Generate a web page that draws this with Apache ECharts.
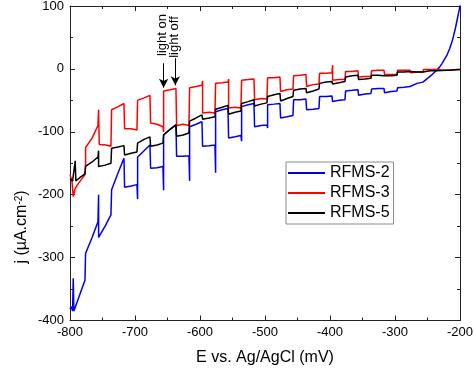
<!DOCTYPE html>
<html>
<head>
<meta charset="utf-8">
<script src="https://cdn.jsdelivr.net/npm/echarts@6/dist/echarts.min.js"></script>
<style>
html,body{margin:0;padding:0;background:#fff;}
#chart{width:474px;height:368px;}
</style>
</head>
<body>
<div id="chart"></div>
<script>
// ---- data (E in mV, j in µA.cm-2) ----
const seriesNames = ['RFMS-2', 'RFMS-3', 'RFMS-5'];
const xRange = [-800, -200];
const yRange = [-400, 100];

const rfms2 = [
  [-800,-382],[-798,-378],[-796,-385],[-795,-333],[-794,-385],[-786,-362],[-777,-336],[-776,-293],[-766,-268],[-757,-243],
  [-756,-200],[-756,-268],[-746,-250],[-737,-232],[-736,-192],[-726,-165],[-717,-142],[-716,-188],[-706,-186],[-697,-184],
  [-696,-207],[-696,-140],[-686,-130],[-677,-121],[-676,-158],[-666,-157],[-657,-155],[-656,-193],[-656,-105],[-646,-96],
  [-637,-89],[-636,-139],[-626,-139],[-617,-138],[-616,-178],[-616,-92],[-606,-88],[-597,-84],[-596,-123],[-586,-122],
  [-577,-121],[-576,-165],[-576,-68],[-566,-65],[-557,-63],[-556,-110],[-546,-108],[-537,-106],[-536,-115],[-536,-60],
  [-526,-57],[-517,-55],[-516,-92],[-506,-90],[-497,-89],[-496,-94],[-496,-57],[-486,-56],[-477,-55],[-476,-78],
  [-466,-76],[-457,-74],[-456,-49],[-446,-49],[-437,-48],[-436,-65],[-426,-64],[-417,-63],[-416,-44],[-406,-44],
  [-397,-43],[-396,-52],[-386,-50],[-377,-49],[-376,-35],[-366,-34],[-357,-33],[-356,-42],[-346,-40],[-337,-39],
  [-336,-32],[-326,-31],[-317,-31],[-316,-38],[-306,-36],[-297,-35],[-296,-30],[-286,-29],[-277,-28],[-276,-25],
  [-266,-23],[-257,-21],[-256,-18],[-250,-15],[-244,-10],[-240,-6],[-236,-2],[-232,2],[-228,8],[-224,15],
  [-220,22],[-216,32],[-213,41],[-210,52],[-207,65],[-205,75],[-203,85],[-201,95],[-200,101]
];

const rfms3 = [
  [-800,-168],[-797,-178],[-795,-203],[-792,-190],[-787,-182],[-777,-168],[-776,-150],[-776,-125],[-766,-110],[-757,-90],
  [-756,-65],[-755,-120],[-745,-121],[-737,-123],[-736,-65],[-726,-60],[-717,-55],[-716,-95],[-706,-95],[-697,-97],
  [-696,-50],[-686,-46],[-677,-42],[-676,-86],[-666,-88],[-657,-92],[-656,-100],[-656,-35],[-646,-33],[-637,-31],
  [-636,-90],[-626,-88],[-617,-90],[-616,-30],[-606,-28],[-597,-26],[-596,-19],[-596,-70],[-586,-69],[-577,-70],
  [-576,-23],[-566,-22],[-557,-21],[-556,-16],[-556,-62],[-546,-61],[-537,-62],[-536,-18],[-526,-17],[-517,-16],
  [-516,-49],[-506,-47],[-497,-48],[-496,-14],[-486,-14],[-477,-13],[-476,-36],[-466,-33],[-457,-32],[-456,-11],
  [-446,-10],[-437,-9],[-436,-28],[-426,-25],[-417,-24],[-416,-7],[-406,-7],[-397,-6],[-396,6],[-396,-18],
  [-386,-17],[-377,-17],[-376,-4],[-366,-4],[-357,-3],[-356,0],[-356,-13],[-346,-12],[-337,-12],[-336,-3],
  [-326,-2],[-317,-2],[-316,-9],[-306,-9],[-297,-9],[-296,-2],[-286,-2],[-277,-2],[-276,-6],[-266,-5],
  [-257,-5],[-256,-1],[-246,-1],[-237,-1],[-236,-3],[-226,-2],[-215,-2],[-205,-1],[-200,-1]
];

const rfms5 = [
  [-800,-175],[-796,-178],[-793,-176],[-792,-146],[-791,-178],[-785,-173],[-777,-167],[-776,-155],[-766,-148],[-757,-140],
  [-756,-130],[-756,-155],[-746,-153],[-737,-150],[-736,-126],[-726,-124],[-717,-122],[-716,-137],[-706,-134],[-697,-132],
  [-696,-118],[-686,-112],[-677,-108],[-676,-123],[-666,-121],[-657,-118],[-656,-105],[-646,-96],[-637,-89],[-636,-107],
  [-626,-105],[-617,-102],[-616,-83],[-606,-78],[-597,-73],[-596,-80],[-586,-78],[-577,-76],[-576,-64],[-566,-61],
  [-557,-58],[-556,-72],[-546,-69],[-537,-67],[-536,-55],[-526,-52],[-517,-49],[-516,-59],[-506,-56],[-497,-54],
  [-496,-44],[-486,-41],[-477,-39],[-476,-51],[-466,-47],[-457,-44],[-456,-34],[-446,-32],[-437,-31],[-436,-38],
  [-426,-35],[-417,-32],[-416,-23],[-406,-21],[-397,-20],[-396,-24],[-386,-22],[-377,-20],[-376,-13],[-366,-11],
  [-357,-10],[-356,-17],[-346,-16],[-337,-15],[-336,-10],[-326,-10],[-317,-11],[-316,-12],[-306,-11],[-297,-10],
  [-296,-5],[-286,-5],[-277,-4],[-276,-6],[-266,-5],[-257,-5],[-256,-3],[-246,-3],[-237,-3],[-236,-3],
  [-220,-2],[-200,-1]
];

// annotation arrows (data coordinates)
const lightOnArrow = [[-656, 9], [-656, -30]];
const lightOffArrow = [[-638, 17], [-638, -26]];
const annotationTexts = ['light on', 'light off'];

// ---- chart ----
const FONT = '"Liberation Sans", Arial, sans-serif';
const AX = '#222';
const chart = echarts.init(document.getElementById('chart'), null, {renderer: 'canvas'});

function xAx(pos, show) {
  return {
    type: 'value', position: pos, min: xRange[0], max: xRange[1], interval: 100,
    axisLine: {show: true, onZero: false, lineStyle: {color: AX, width: 1}},
    axisTick: {show: true, inside: true, length: 5, lineStyle: {color: AX}},
    minorTick: {show: true, splitNumber: 2, length: 3, lineStyle: {color: AX}},
    splitLine: {show: false},
    axisLabel: {show: show, margin: 5, color: '#000', fontSize: 13, fontFamily: FONT},
    name: show ? 'E vs. Ag/AgCl (mV)' : '',
    nameLocation: 'middle', nameGap: 29,
    nameTextStyle: {fontSize: 16, color: '#000', fontFamily: FONT}
  };
}
function yAx(pos, show) {
  return {
    type: 'value', position: pos, min: yRange[0], max: yRange[1], interval: 100,
    axisLine: {show: true, onZero: false, lineStyle: {color: AX, width: 1}},
    axisTick: {show: true, inside: true, length: 5, lineStyle: {color: AX}},
    minorTick: {show: true, splitNumber: 2, length: 3, lineStyle: {color: AX}},
    splitLine: {show: false},
    axisLabel: {show: show, margin: 6, color: '#000', fontSize: 13, fontFamily: FONT}
  };
}

const option = {
  backgroundColor: '#fff',
  animation: false,
  grid: {left: 70, right: 14, top: 6, bottom: 47.5, containLabel: false, outerBoundsMode: 'none'},
  xAxis: [xAx('bottom', true), xAx('top', false)],
  yAxis: [yAx('left', true), yAx('right', false)],
  legend: {
    orient: 'vertical', left: 286, top: 162,
    padding: [3, 4, 3, 2], itemGap: 4, itemWidth: 37, itemHeight: 2,
    icon: 'rect',
    borderColor: '#8a8a8a', borderWidth: 1, borderRadius: 0, backgroundColor: '#fff',
    textStyle: {fontSize: 16, lineHeight: 16, color: '#000', fontFamily: FONT},
    data: seriesNames
  },
  series: [
    {name: seriesNames[0], type: 'line', data: rfms2, symbol: 'none', lineStyle: {color: '#0000ee', width: 1.5}, itemStyle: {color: '#0000ee'}, z: 3},
    {name: seriesNames[1], type: 'line', data: rfms3, symbol: 'none', lineStyle: {color: '#ff0000', width: 1.5}, itemStyle: {color: '#ff0000'}, z: 4},
    {name: seriesNames[2], type: 'line', data: rfms5, symbol: 'none', lineStyle: {color: '#000000', width: 1.5}, itemStyle: {color: '#000000'}, z: 5,
     markLine: {
       silent: true, animation: false,
       symbol: ['none', 'arrow'], symbolSize: [7, 9],
       label: {show: false},
       lineStyle: {color: '#000', width: 1, type: 'solid'},
       data: [
         [{coord: lightOnArrow[0]}, {coord: lightOnArrow[1]}],
         [{coord: lightOffArrow[0]}, {coord: lightOffArrow[1]}]
       ]
     }}
  ],
  graphic: [
    {type: 'text', x: 22, y: 227, rotation: Math.PI / 2,
     style: {text: '{a|j (µA.cm}{s|-2}{a|)}', align: 'center', verticalAlign: 'middle', fill: '#000',
       rich: {a: {fontSize: 16, fontFamily: FONT, fill: '#000'}, s: {fontSize: 10, fontFamily: FONT, fill: '#000', verticalAlign: 'top', padding: [0, 0, 6, 0]}}}},
    {type: 'text', x: 162.5, y: 35, rotation: Math.PI / 2,
     style: {text: annotationTexts[0], align: 'center', verticalAlign: 'middle', fontSize: 13, fontFamily: FONT, fill: '#000'}},
    {type: 'text', x: 174, y: 37, rotation: Math.PI / 2,
     style: {text: annotationTexts[1], align: 'center', verticalAlign: 'middle', fontSize: 13, fontFamily: FONT, fill: '#000'}}
  ]
};
chart.setOption(option);
</script>
</body>
</html>
